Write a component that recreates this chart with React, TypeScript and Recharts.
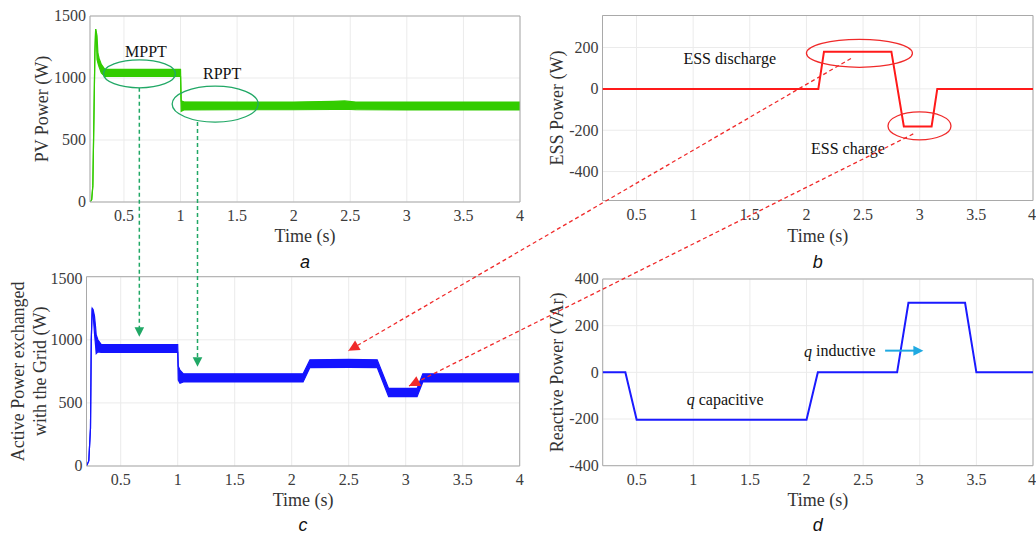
import React from 'react';
import { ComposedChart, Line, Area, XAxis, YAxis, CartesianGrid, ReferenceArea, Label } from 'recharts';

const SERIF = '"Liberation Serif", "Times New Roman", serif';
const SANS = '"Liberation Sans", Arial, sans-serif';

const T0 = 0.2;
const T1 = 4;
const timeTicks = [0.5, 1, 1.5, 2, 2.5, 3, 3.5, 4];

// a - PV power (W), drawn as a band low..high
const pvTime = [0.2, 0.215, 0.225, 0.235, 0.243, 0.25, 0.256, 0.262, 0.27, 0.28, 0.3, 0.33, 0.6, 1.0, 1.006, 1.03, 1.5, 2.0, 2.35, 2.45, 2.55, 3.0, 3.5, 4.0];
const pvLow = [0, 20, 130, 700, 1200, 1395, 1330, 1150, 1120, 1090, 1040, 1012, 1012, 1012, 732, 742, 744, 744, 746, 748, 744, 742, 742, 742];
const pvHigh = [0, 20, 130, 700, 1200, 1395, 1370, 1340, 1200, 1160, 1110, 1072, 1070, 1070, 815, 808, 806, 806, 812, 815, 806, 806, 806, 806];

// b - ESS power (W)
const essTime = [0.2, 2.105, 2.155, 2.75, 2.86, 3.105, 3.155, 4.0];
const essPower = [0, 0, 180, 180, -182, -182, 0, 0];

// c - active power exchanged with the grid (W), band low..high
const gridTime = [0.2, 0.22, 0.235, 0.242, 0.25, 0.258, 0.27, 0.28, 0.285, 0.3, 0.33, 1.0, 1.005, 1.02, 1.05, 2.1, 2.16, 2.5, 2.75, 2.85, 3.1, 3.15, 4.0];
const gridLow = [0, 40, 300, 1000, 1250, 1200, 1050, 950, 890, 905, 900, 900, 680, 655, 666, 666, 780, 782, 780, 550, 550, 666, 666];
const gridHigh = [0, 40, 300, 1000, 1250, 1240, 1190, 1100, 1040, 1000, 962, 962, 790, 760, 730, 730, 842, 845, 842, 615, 615, 730, 730];

// d - reactive power (VAr)
const qTime = [0.2, 0.4, 0.5, 2.0, 2.1, 2.8, 2.9, 3.4, 3.5, 4.0];
const qPower = [0, 0, -203, -203, 0, 0, 298, 298, 0, 0];

const pvTicks = [0, 500, 1000, 1500];
const essTicks = [-400, -200, 0, 200];
const gridTicks = [0, 500, 1000, 1500];
const qTicks = [-400, -200, 0, 200, 400];

const pvData = pvTime.map((t, i) => ({ t, band: [pvLow[i], pvHigh[i]] }));
const essData = essTime.map((t, i) => ({ t, p: essPower[i] }));
const gridData = gridTime.map((t, i) => ({ t, band: [gridLow[i], gridHigh[i]] }));
const qData = qTime.map((t, i) => ({ t, q: qPower[i] }));

type Geom = { x: number; y: number; w: number; h: number; yW: number; xH: number; mt: number; mr: number; yMin: number; yMax: number };

const A: Geom = { x: 0, y: 0, w: 526, h: 270, yW: 90, xH: 68, mt: 16, mr: 6, yMin: 0, yMax: 1500 };
const B: Geom = { x: 520, y: 0, w: 516, h: 270, yW: 82.5, xH: 69.5, mt: 15.5, mr: 3, yMin: -540, yMax: 355 };
const C: Geom = { x: 0, y: 270, w: 526, h: 264, yW: 86.5, xH: 68, mt: 6.7, mr: 6.3, yMin: 0, yMax: 1500 };
const D: Geom = { x: 520, y: 270, w: 516, h: 264, yW: 82.7, xH: 68.3, mt: 9, mr: 3, yMin: -400, yMax: 400 };

const plotRect = (g: Geom) => ({
  left: g.x + g.yW,
  top: g.y + g.mt,
  width: g.w - g.yW - g.mr,
  height: g.h - g.mt - g.xH,
});

// data -> page pixels, same linear mapping the chart axes use
const toPx = (g: Geom, t: number, v: number) => {
  const r = plotRect(g);
  return {
    x: r.left + ((t - T0) / (T1 - T0)) * r.width,
    y: r.top + ((g.yMax - v) / (g.yMax - g.yMin)) * r.height,
  };
};

const XTick = (props: any) => (
  <text x={props.x} y={props.y} dy="0.71em" textAnchor="middle" fill="#3c3c3c" fontSize={16} fontFamily={SERIF}>
    {props.payload.value}
  </text>
);

const YTick = (props: any) => (
  <text x={props.x} y={props.y} dy="0.34em" textAnchor="end" fill="#3c3c3c" fontSize={16} fontFamily={SERIF}>
    {props.payload.value}
  </text>
);

const YTitle = ({ g, lines, xs }: { g: Geom; lines: string[]; xs: number[] }) => {
  const cy = g.mt + plotRect(g).height / 2;
  return (
    <g>
      {lines.map((l, i) => (
        <text
          key={i}
          x={xs[i]}
          y={cy}
          transform={`rotate(-90 ${xs[i]} ${cy})`}
          textAnchor="middle"
          dominantBaseline="central"
          fill="#333"
          fontSize={18}
          fontFamily={SERIF}
        >
          {l}
        </text>
      ))}
    </g>
  );
};

function Panel({ g, yTicks, titleLines, titleXs, children }: any) {
  return (
    <div style={{ position: 'absolute', left: g.x, top: g.y }}>
      <ComposedChart width={g.w} height={g.h} margin={{ top: g.mt, right: g.mr, bottom: 0, left: 0 }}>
        <CartesianGrid stroke="#ebebeb" />
        <XAxis
          type="number"
          dataKey="t"
          domain={[T0, T1]}
          ticks={timeTicks}
          allowDataOverflow
          height={g.xH}
          axisLine={false}
          tickLine={false}
          tickSize={0}
          tickMargin={8}
          tick={<XTick />}
        >
          <Label value="Time (s)" position="insideBottom" offset={28.5} fill="#333" fontSize={18} fontFamily={SERIF} />
        </XAxis>
        <YAxis
          type="number"
          domain={[g.yMin, g.yMax]}
          ticks={yTicks}
          allowDataOverflow
          width={g.yW}
          axisLine={false}
          tickLine={false}
          tickSize={0}
          tickMargin={4}
          tick={<YTick />}
        >
          <Label content={<YTitle g={g} lines={titleLines} xs={titleXs} />} />
        </YAxis>
        {children}
        <ReferenceArea x1={T0} x2={T1} y1={g.yMin} y2={g.yMax} fill="none" stroke="#a9a9a9" strokeWidth={1} />
      </ComposedChart>
    </div>
  );
}

const arrowHead = (from: { x: number; y: number }, tip: { x: number; y: number }, len: number, half: number) => {
  const dx = tip.x - from.x;
  const dy = tip.y - from.y;
  const d = Math.hypot(dx, dy);
  const ux = dx / d;
  const uy = dy / d;
  const bx = tip.x - ux * len;
  const by = tip.y - uy * len;
  return `${tip.x},${tip.y} ${bx - uy * half},${by + ux * half} ${bx + uy * half},${by - ux * half}`;
};

function Overlay() {
  const green = '#21a866';
  const red = '#f02a2a';
  const cyan = '#1fa9e1';

  const mppt = toPx(A, 0.637, 1034);
  const rppt = toPx(A, 1.306, 790);
  const mpptText = toPx(A, 0.694, 1212);
  const rpptText = toPx(A, 1.368, 1038);

  const g1x = toPx(A, 0.636, 0).x;
  const g1from = { x: g1x, y: mppt.y + 14 };
  const g1tip = { x: g1x, y: toPx(C, 0.66, 1025).y };
  const g2x = toPx(A, 1.15, 0).x;
  const g2from = { x: g2x, y: rppt.y + 18 };
  const g2tip = { x: g2x, y: toPx(C, 1.15, 787).y };

  const dis = toPx(B, 2.468, 172);
  const chg = toPx(B, 2.998, -179);
  const disText = toPx(B, 1.323, 145);
  const chgText = toPx(B, 2.367, -290);

  const r1from = toPx(B, 2.393, 147);
  const r1tip = toPx(C, 2.497, 913);
  const r2from = toPx(B, 2.943, -218);
  const r2tip = toPx(C, 3.029, 634);

  const indText = toPx(D, 1.978, 93);
  const capText = toPx(D, 0.942, -115);
  const cFrom = toPx(D, 2.694, 93);
  const cTip = toPx(D, 3.032, 93);

  const letters = [
    { g: A, s: 'a', y: 267.5 },
    { g: B, s: 'b', y: 267.5 },
    { g: C, s: 'c', y: 531 },
    { g: D, s: 'd', y: 531 },
  ];

  const txt = { fill: '#111', fontSize: 16, fontFamily: SERIF };

  return (
    <svg width={1036} height={534} style={{ position: 'absolute', left: 0, top: 0, pointerEvents: 'none' }}>
      {/* green: MPPT / RPPT */}
      <ellipse cx={mppt.x} cy={mppt.y} rx={36} ry={14} fill="none" stroke={green} strokeWidth={1.3} />
      <ellipse cx={rppt.x} cy={rppt.y} rx={43} ry={18} fill="none" stroke={green} strokeWidth={1.3} />
      <text x={mpptText.x} y={mpptText.y} textAnchor="middle" dominantBaseline="central" {...txt}>MPPT</text>
      <text x={rpptText.x} y={rpptText.y} textAnchor="middle" dominantBaseline="central" {...txt}>RPPT</text>
      <line x1={g1from.x} y1={g1from.y} x2={g1tip.x} y2={g1tip.y - 8} stroke={green} strokeWidth={1.5} strokeDasharray="4 3" />
      <polygon points={arrowHead(g1from, g1tip, 9.5, 4.8)} fill={green} />
      <line x1={g2from.x} y1={g2from.y} x2={g2tip.x} y2={g2tip.y - 8} stroke={green} strokeWidth={1.5} strokeDasharray="4 3" />
      <polygon points={arrowHead(g2from, g2tip, 9.5, 4.8)} fill={green} />

      {/* red: ESS */}
      <ellipse cx={dis.x} cy={dis.y} rx={53} ry={14} fill="none" stroke={red} strokeWidth={1.3} />
      <ellipse cx={chg.x} cy={chg.y} rx={31.5} ry={14} fill="none" stroke={red} strokeWidth={1.3} />
      <text x={disText.x} y={disText.y} textAnchor="middle" dominantBaseline="central" {...txt}>ESS discharge</text>
      <text x={chgText.x} y={chgText.y} textAnchor="middle" dominantBaseline="central" {...txt}>ESS charge</text>
      <line x1={r1from.x} y1={r1from.y} x2={r1tip.x} y2={r1tip.y} stroke={red} strokeWidth={1.3} strokeDasharray="4 3" />
      <polygon points={arrowHead(r1from, r1tip, 11, 5.5)} fill={red} />
      <line x1={r2from.x} y1={r2from.y} x2={r2tip.x} y2={r2tip.y} stroke={red} strokeWidth={1.3} strokeDasharray="4 3" />
      <polygon points={arrowHead(r2from, r2tip, 11, 5.5)} fill={red} />

      {/* reactive annotations */}
      <text x={indText.x} y={indText.y} dominantBaseline="central" {...txt}>
        <tspan fontStyle="italic">q</tspan> inductive
      </text>
      <text x={capText.x} y={capText.y} dominantBaseline="central" {...txt}>
        <tspan fontStyle="italic">q</tspan> capacitive
      </text>
      <line x1={cFrom.x} y1={cFrom.y} x2={cTip.x - 8} y2={cTip.y} stroke={cyan} strokeWidth={2} />
      <polygon points={arrowHead(cFrom, cTip, 10, 5)} fill={cyan} />

      {letters.map((l) => {
        const r = plotRect(l.g);
        return (
          <text key={l.s} x={r.left + r.width / 2} y={l.y} textAnchor="middle" fill="#111" fontSize={18} fontStyle="italic" fontFamily={SANS}>
            {l.s}
          </text>
        );
      })}
    </svg>
  );
}

export default function App() {
  return (
    <div style={{ position: 'absolute', left: 0, top: 0, width: 1036, height: 534, background: '#fff', overflow: 'hidden' }}>
      <Panel g={A} yTicks={pvTicks} titleLines={['PV Power (W)']} titleXs={[42]}>
        <Area
          data={pvData}
          dataKey="band"
          type="linear"
          fill="#33cc00"
          fillOpacity={1}
          stroke="#33cc00"
          strokeWidth={1.2}
          isAnimationActive={false}
        />
      </Panel>
      <Panel g={B} yTicks={essTicks} titleLines={['ESS Power (W)']} titleXs={[37.3]}>
        <Line data={essData} dataKey="p" type="linear" stroke="#ff1a1a" strokeWidth={2} dot={false} isAnimationActive={false} />
      </Panel>
      <Panel g={C} yTicks={gridTicks} titleLines={['Active Power exchanged', 'with the Grid (W)']} titleXs={[18.5, 40]}>
        <Area
          data={gridData}
          dataKey="band"
          type="linear"
          fill="#1414ff"
          fillOpacity={1}
          stroke="#1414ff"
          strokeWidth={1.2}
          isAnimationActive={false}
        />
      </Panel>
      <Panel g={D} yTicks={qTicks} titleLines={['Reactive Power (VAr)']} titleXs={[37.3]}>
        <Line data={qData} dataKey="q" type="linear" stroke="#1a1aff" strokeWidth={2} dot={false} isAnimationActive={false} />
      </Panel>
      <Overlay />
    </div>
  );
}
